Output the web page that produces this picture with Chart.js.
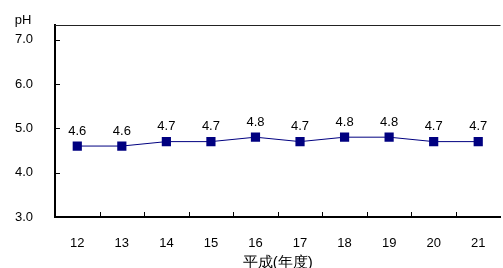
<!DOCTYPE html>
<html>
<head>
<meta charset="utf-8">
<script src="https://cdn.jsdelivr.net/npm/chart.js@4/dist/chart.umd.min.js"></script>
<style>
  html, body { margin: 0; padding: 0; background: #fff; overflow: hidden; }
  #wrap { width: 507px; height: 268px; }
</style>
</head>
<body>
<div id="wrap"><canvas id="PHChart"></canvas></div>
<script>
var years = ['12', '13', '14', '15', '16', '17', '18', '19', '20', '21']
var ph = [4.6, 4.6, 4.7, 4.7, 4.8, 4.7, 4.8, 4.8, 4.7, 4.7]
var yTicks = [3, 4, 5, 6, 7]
var yLabel = 'pH'
var xLabel = '平成(年度)'

var FONT = '"Liberation Sans", Arial, sans-serif'

// value labels, inner tick marks, top border, pH caption and x title
var extras = {
  id: 'extras',
  afterDatasetsDraw: function(chart){
    var c = chart.ctx
    var meta = chart.getDatasetMeta(0)
    c.save()
    c.fillStyle = '#000'
    c.font = '13px ' + FONT
    c.textAlign = 'center'
    c.textBaseline = 'middle'
    meta.data.forEach(function(p, i){
      c.fillText(ph[i].toFixed(1), p.x, p.y - 15)
    })
    c.restore()
  },
  afterDraw: function(chart){
    var c = chart.ctx
    var a = chart.chartArea
    var x = chart.scales.x, y = chart.scales.y
    c.save()
    c.strokeStyle = '#000'
    c.lineWidth = 1
    c.beginPath()
    yTicks.forEach(function(v){
      var py = Math.round(y.getPixelForValue(v)) + 0.5
      c.moveTo(a.left, py); c.lineTo(a.left + 5, py)
    })
    for(var i = 1; i < years.length; i++){
      var px = Math.round((x.getPixelForValue(i - 1) + x.getPixelForValue(i)) / 2) + 0.5
      c.moveTo(px, a.bottom); c.lineTo(px, a.bottom - 5)
    }
    c.stroke()
    c.strokeStyle = '#222'
    c.beginPath()
    c.moveTo(a.left, a.top + 0.5); c.lineTo(a.right, a.top + 0.5)
    c.stroke()
    c.fillStyle = '#000'
    c.font = '13px ' + FONT
    c.textAlign = 'center'
    c.textBaseline = 'middle'
    c.fillText(yLabel, 23, 20)
    c.font = '15px ' + FONT
    c.fillText(xLabel, (a.left + a.right) / 2, 263)
    c.restore()
  }
}

new Chart(document.getElementById('PHChart'), {
  type: 'line',
  data: {
    labels: years,
    datasets: [{
      data: ph,
      borderColor: '#000080',
      borderWidth: 1,
      backgroundColor: '#000080',
      pointStyle: 'rect',
      pointRadius: 6.5,
      pointHoverRadius: 6.5,
      pointBorderWidth: 0,
      pointBackgroundColor: '#000080',
      tension: 0
    }]
  },
  options: {
    responsive: true,
    maintainAspectRatio: false,
    animation: false,
    events: [],
    layout: { padding: { top: 25, right: 0, left: 0, bottom: 0 } },
    plugins: { legend: { display: false }, tooltip: { enabled: false } },
    scales: {
      x: {
        offset: true,
        grid: { display: false, drawTicks: false },
        border: { color: '#000', width: 2 },
        ticks: { color: '#000', font: { family: FONT, size: 13 }, padding: 19, maxRotation: 0 },
        afterFit: function(s){ s.height = 51; s.paddingLeft = 0; s.paddingRight = 0 }
      },
      y: {
        min: 3,
        max: 7.33,
        grid: { display: false, drawTicks: false },
        border: { color: '#000', width: 2 },
        afterBuildTicks: function(s){ s.ticks = yTicks.map(function(v){ return { value: v } }) },
        ticks: {
          color: '#000',
          font: { family: FONT, size: 13 },
          padding: 22,
          callback: function(v){ return Number(v).toFixed(1) }
        },
        afterFit: function(s){ s.width = 55; s.paddingTop = 0; s.paddingBottom = 0 }
      }
    }
  },
  plugins: [extras]
})
</script>
</body>
</html>
